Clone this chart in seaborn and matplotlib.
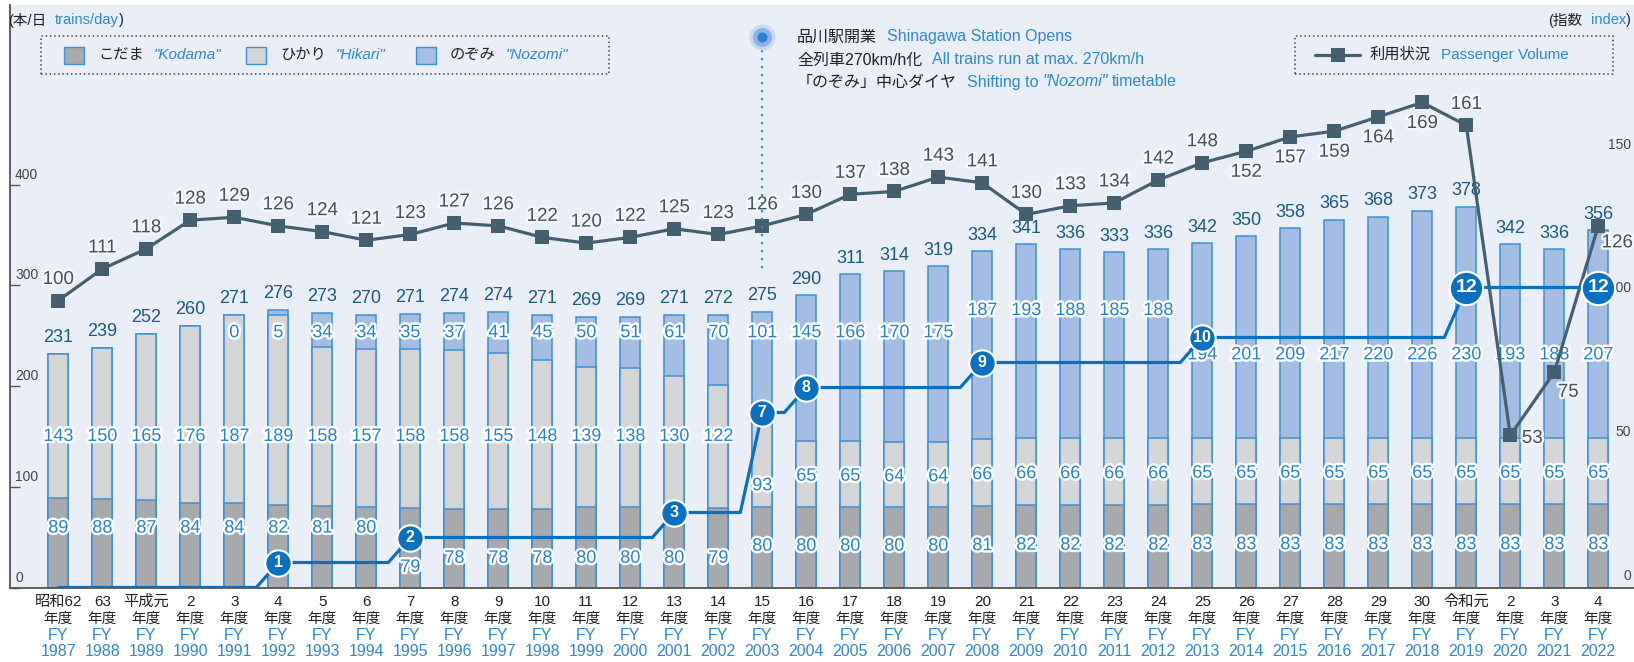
import matplotlib
matplotlib.use("Agg")
import matplotlib.pyplot as plt
import matplotlib.patheffects as pe
from matplotlib.patches import Rectangle
from matplotlib.lines import Line2D
from matplotlib.transforms import blended_transform_factory, offset_copy
import numpy as np
import pandas as pd
import seaborn as sns

# ---------------- data ----------------
fiscal_years = list(range(1987, 2023))
era_labels = ['昭和62', '63', '平成元'] + [str(i) for i in range(2, 31)] + ['令和元', '2', '3', '4']
kodama = [89, 88, 87, 84, 84, 82, 81, 80, 79, 78, 78, 78, 80, 80, 80, 79, 80, 80, 80, 80,
          80, 81, 82, 82, 82, 82, 83, 83, 83, 83, 83, 83, 83, 83, 83, 83]
hikari = [143, 150, 165, 176, 187, 189, 158, 157, 158, 158, 155, 148, 139, 138, 130, 122, 93, 65,
          65, 64, 64, 66, 66, 66, 66, 66, 65, 65, 65, 65, 65, 65, 65, 65, 65, 65]
nozomi = [0, 0, 0, 0, 0, 5, 34, 34, 35, 37, 41, 45, 50, 51, 61, 70, 101, 145, 166, 170, 175,
          187, 193, 188, 185, 188, 194, 201, 209, 217, 220, 226, 230, 193, 188, 207]
nozomi_first_year = 1991
totals = [231, 239, 252, 260, 271, 276, 273, 270, 271, 274, 274, 271, 269, 269, 271, 272, 275,
          290, 311, 314, 319, 334, 341, 336, 333, 336, 342, 350, 358, 365, 368, 373, 378, 342,
          336, 356]
passenger_index = [100, 111, 118, 128, 129, 126, 124, 121, 123, 127, 126, 122, 120, 122, 125,
                   123, 126, 130, 137, 138, 143, 141, 130, 133, 134, 142, 148, 152, 157, 159,
                   164, 169, 161, 53, 75, 126]
nozomi_per_hour = [0, 0, 0, 0, 0, 1, 1, 1, 2, 2, 2, 2, 2, 2, 3, 3, 7, 8, 8, 8, 8, 9, 9, 9, 9, 9,
                   10, 10, 10, 10, 10, 10, 12, 12, 12, 12]

# ---------------- style ----------------
W, H = 1634, 662
BG = '#EAEEF7'
C_KODAMA = '#A7A9AC'
C_HIKARI = '#D4D5D7'
C_NOZOMI = '#A4BDE3'
C_EDGE = '#3F8FD3'
C_SEG = '#2484D0'
C_TOTAL = '#1B5A7D'
C_INDEX = '#44606E'
C_INDEX_TXT = '#44535B'
C_STEP = '#0A70BF'
C_BLUE_TXT = '#2F88D0'
C_BLACK = '#222222'

sns.set_theme(style='white')
FAM = ['Liberation Sans', 'Noto Sans CJK JP', 'DejaVu Sans']
plt.rcParams['font.family'] = FAM

fig = plt.figure(figsize=(W / 100, H / 100), dpi=100)
fig.patch.set_facecolor('white')


def fx(px):
    return px / W


def fy(py):
    return 1 - py / H


ax = fig.add_axes([fx(10), 1 - 587.5 / H, 1632 / W, 582.5 / H])
ax.set_facecolor(BG)

n = len(fiscal_years)
idx = np.arange(n)
df = pd.DataFrame({
    'year': fiscal_years,
    'k': kodama,
    'kh': np.array(kodama) + np.array(hikari),
    'khn': np.array(kodama) + np.array(hikari) + np.array(nozomi),
})

bw = 20 / 44
for col, colr in [('khn', C_NOZOMI), ('kh', C_HIKARI), ('k', C_KODAMA)]:
    sns.barplot(data=df, x='year', y=col, color=colr, saturation=1, width=bw,
                edgecolor=C_EDGE, linewidth=1.1, errorbar=None, ax=ax)

ax.set_xlim(-48.3 / 44, (1642 - 58.3) / 44)
ax.set_ylim(0, 582.5 / 1.007)
ax.set_xlabel('')
ax.set_ylabel('')
ax.set_xticks([])
ax.set_yticks([0, 100, 200, 300, 400])
ax.tick_params(axis='y', direction='in', length=7, width=1, color='#555555', labelleft=False)
for s in ['top', 'right']:
    ax.spines[s].set_visible(False)
for s in ['left', 'bottom']:
    ax.spines[s].set_color('#555555')
    ax.spines[s].set_linewidth(1.3)

# left tick labels (drawn above the tick marks)
tr_left = offset_copy(blended_transform_factory(ax.transAxes, ax.transData), fig=fig, x=5, y=10, units='dots')
for v in [0, 100, 200, 300, 400]:
    ax.text(0, v, str(v), transform=tr_left, ha='left', va='center', fontsize=10, color='#444444')

halo_w = [pe.withStroke(linewidth=3.5, foreground='white')]

# segment labels
for i in idx:
    yr = fiscal_years[i]
    k, h, nz = kodama[i], hikari[i], nozomi[i]
    if yr <= 1994:
        ky = 59
    elif yr == 1995:
        ky = 20
    elif yr <= 2002:
        ky = 29
    else:
        ky = k / 2 + 1
    if yr <= 2002:
        hy = 150
    elif yr == 2003:
        hy = 101
    else:
        hy = k + h / 2 - 2
    ax.text(i, ky, str(k), ha='center', va='center', fontsize=13, color=C_SEG, path_effects=halo_w)
    ax.text(i, hy, str(h), ha='center', va='center', fontsize=13, color=C_SEG, path_effects=halo_w)
    if yr >= nozomi_first_year:
        if yr <= 2007:
            ny = 253
        elif yr <= 2012:
            ny = 275
        else:
            ny = 231
        ax.text(i, ny, str(nz), ha='center', va='center', fontsize=13, color=C_SEG, path_effects=halo_w)
    ax.annotate(str(totals[i]), (i, df['khn'][i]), xytext=(0, 11.5), textcoords='offset points',
                ha='center', va='center', fontsize=13, color=C_TOTAL)

# ---------------- passenger index (right axis) ----------------
ax2 = ax.twinx()
sns.lineplot(x=idx, y=passenger_index, ax=ax2, color=C_INDEX, linewidth=2.3, marker='s',
             markersize=9.5, markeredgewidth=0, estimator=None, sort=False)
ax2.set_ylim(0, 582.5 / 2.87)
ax2.set_yticks([0, 50, 100, 150])
ax2.tick_params(axis='y', direction='in', length=6, color='#555555', labelright=False)
for s in ax2.spines.values():
    s.set_visible(False)
ax2.set_ylabel('')
tr_right = offset_copy(blended_transform_factory(ax2.transAxes, ax2.transData), fig=fig, x=-11, y=12, units='dots')
for v in [0, 50, 100, 150]:
    ax2.text(1, v, str(v), transform=tr_right, ha='right', va='center', fontsize=10, color='#444444')

halo_i = [pe.withStroke(linewidth=3.5, foreground='#F4F6FB')]
for i in idx:
    yr = fiscal_years[i]
    if 2014 <= yr <= 2018:
        off = (0, -21)
    elif yr == 2020:
        off = (22, -3)
    elif yr == 2021:
        off = (14, -20)
    elif yr == 2022:
        off = (19, -17)
    else:
        off = (0, 21)
    ax2.annotate(str(passenger_index[i]), (i, passenger_index[i]),
                 xytext=(off[0] * 0.72, off[1] * 0.72), textcoords='offset points',
                 ha='center', va='center', fontsize=13.5, color=C_INDEX_TXT, path_effects=halo_i)

# ---------------- nozomi per hour step line ----------------
ax3 = ax.twinx()
px, py = [0], [nozomi_per_hour[0]]
marks = []
for i in range(1, n):
    if nozomi_per_hour[i] != nozomi_per_hour[i - 1]:
        px += [i - 0.5, i]
        py += [nozomi_per_hour[i - 1], nozomi_per_hour[i]]
        marks.append(i)
px.append(n - 1)
py.append(nozomi_per_hour[-1])
marks.append(n - 1)
sns.lineplot(x=px, y=py, ax=ax3, color=C_STEP, linewidth=2.3, estimator=None, sort=False)
ax3.set_ylim(0, 582.5 / 25)
ax3.set_yticks([])
ax3.set_ylabel('')
for s in ax3.spines.values():
    s.set_visible(False)
for i in marks:
    v = nozomi_per_hour[i]
    big = v >= 12
    ax3.scatter([i], [v], s=(24 if big else 19) ** 2, color=C_STEP, edgecolor='white',
                linewidth=1.5, zorder=6)
    ax3.text(i, v, str(v), ha='center', va='center', color='white', fontweight='bold',
             fontsize=14 if big else 11.5, zorder=7)

# ---------------- x labels ----------------
trx = blended_transform_factory(ax.transData, fig.transFigure)
for i in idx:
    ax.text(i, fy(602), era_labels[i], transform=trx, ha='center', va='center', fontsize=11, color=C_BLACK)
    ax.text(i, fy(619), '年度', transform=trx, ha='center', va='center', fontsize=10.5, color=C_BLACK)
    ax.text(i, fy(636), 'FY', transform=trx, ha='center', va='center', fontsize=11.5, color=C_BLUE_TXT)
    ax.text(i, fy(652), str(fiscal_years[i]), transform=trx, ha='center', va='center', fontsize=11.5,
            color=C_BLUE_TXT)

# ---------------- header / legends / annotation ----------------
fig.canvas.draw()
renderer = fig.canvas.get_renderer()


def rich(x_px, y_px, parts, align='left'):
    arts = []
    x = x_px
    for k, p in enumerate(parts):
        t = fig.text(fx(x), fy(y_px), p[0], color=p[1], fontsize=p[2], style=p[3],
                     va='center', ha='left')
        w = t.get_window_extent(renderer).width
        arts.append(t)
        x += w + (p[4] if k < len(parts) - 1 else 0)
    if align == 'right':
        shift = x - x_px
        for t in arts:
            pos = t.get_position()
            t.set_position((pos[0] - shift / W, pos[1]))
    return x


rich(8, 20, [('(本/日', C_BLACK, 10.5, 'normal', 9), ('trains/day', C_BLUE_TXT, 10.5, 'normal', 0),
             (')', C_BLACK, 10.5, 'normal', 0)])
rich(1631, 20, [('(指数', C_BLACK, 10.5, 'normal', 9), ('index', C_BLUE_TXT, 10.5, 'normal', 0),
                (')', C_BLACK, 10.5, 'normal', 0)], align='right')

# legend boxes
for (x0, y0, x1, y1) in [(41, 36, 609, 74), (1295, 36, 1613, 74)]:
    fig.add_artist(Rectangle((fx(x0), fy(y1)), (x1 - x0) / W, (y1 - y0) / H, transform=fig.transFigure,
                             facecolor='none', edgecolor='#444444', linewidth=1.1,
                             linestyle=(0, (1, 1.8))))
for sx, colr, jp, en in [(64, C_KODAMA, 'こだま', '"Kodama"'), (246, C_HIKARI, 'ひかり', '"Hikari"'),
                         (416, C_NOZOMI, 'のぞみ', '"Nozomi"')]:
    fig.add_artist(Rectangle((fx(sx), fy(64)), 20 / W, 17 / H, transform=fig.transFigure,
                             facecolor=colr, edgecolor=C_EDGE, linewidth=1))
    rich(sx + 34, 55, [(jp, C_BLACK, 11, 'normal', 10), (en, C_BLUE_TXT, 11, 'italic', 0)])

# right legend
fig.add_artist(Line2D([fx(1315), fx(1360)], [fy(55), fy(55)], transform=fig.transFigure,
                      color=C_INDEX, linewidth=2.3))
fig.add_artist(Line2D([fx(1337.5)], [fy(55)], transform=fig.transFigure, color=C_INDEX,
                      marker='s', markersize=9.5, markeredgewidth=0, linestyle='none'))
rich(1370, 55, [('利用状況', C_BLACK, 11, 'normal', 10), ('Passenger Volume', C_BLUE_TXT, 11, 'normal', 0)])

# annotation at FY2003
i03 = fiscal_years.index(2003)
fig.add_artist(Line2D([i03, i03], [fy(50), fy(272)], transform=trx, color='#3A86D0',
                      linewidth=1.6, linestyle=(0, (1, 2.6))))
for sz, colr in [(26, '#C9D9F1'), (19, '#8FB3E6'), (10, '#2E7ED0')]:
    fig.add_artist(Line2D([i03], [fy(37)], transform=trx, color=colr, marker='o',
                          markersize=sz * 0.72, markeredgewidth=0, linestyle='none'))
rich(797, 37, [('品川駅開業', C_BLACK, 11.5, 'normal', 10),
               ('Shinagawa Station Opens', C_BLUE_TXT, 11.5, 'normal', 0)])
rich(797, 60, [('全列車270km/h化', C_BLACK, 11.5, 'normal', 10),
               ('All trains run at max. 270km/h', C_BLUE_TXT, 11.5, 'normal', 0)])
rich(797, 82, [('「のぞみ」中心ダイヤ', C_BLACK, 11.5, 'normal', 10),
               ('Shifting to', C_BLUE_TXT, 11.5, 'normal', 4),
               ('"Nozomi"', C_BLUE_TXT, 11.5, 'italic', 4),
               ('timetable', C_BLUE_TXT, 11.5, 'normal', 0)])

fig.savefig('out.png', dpi=100, facecolor='white')
